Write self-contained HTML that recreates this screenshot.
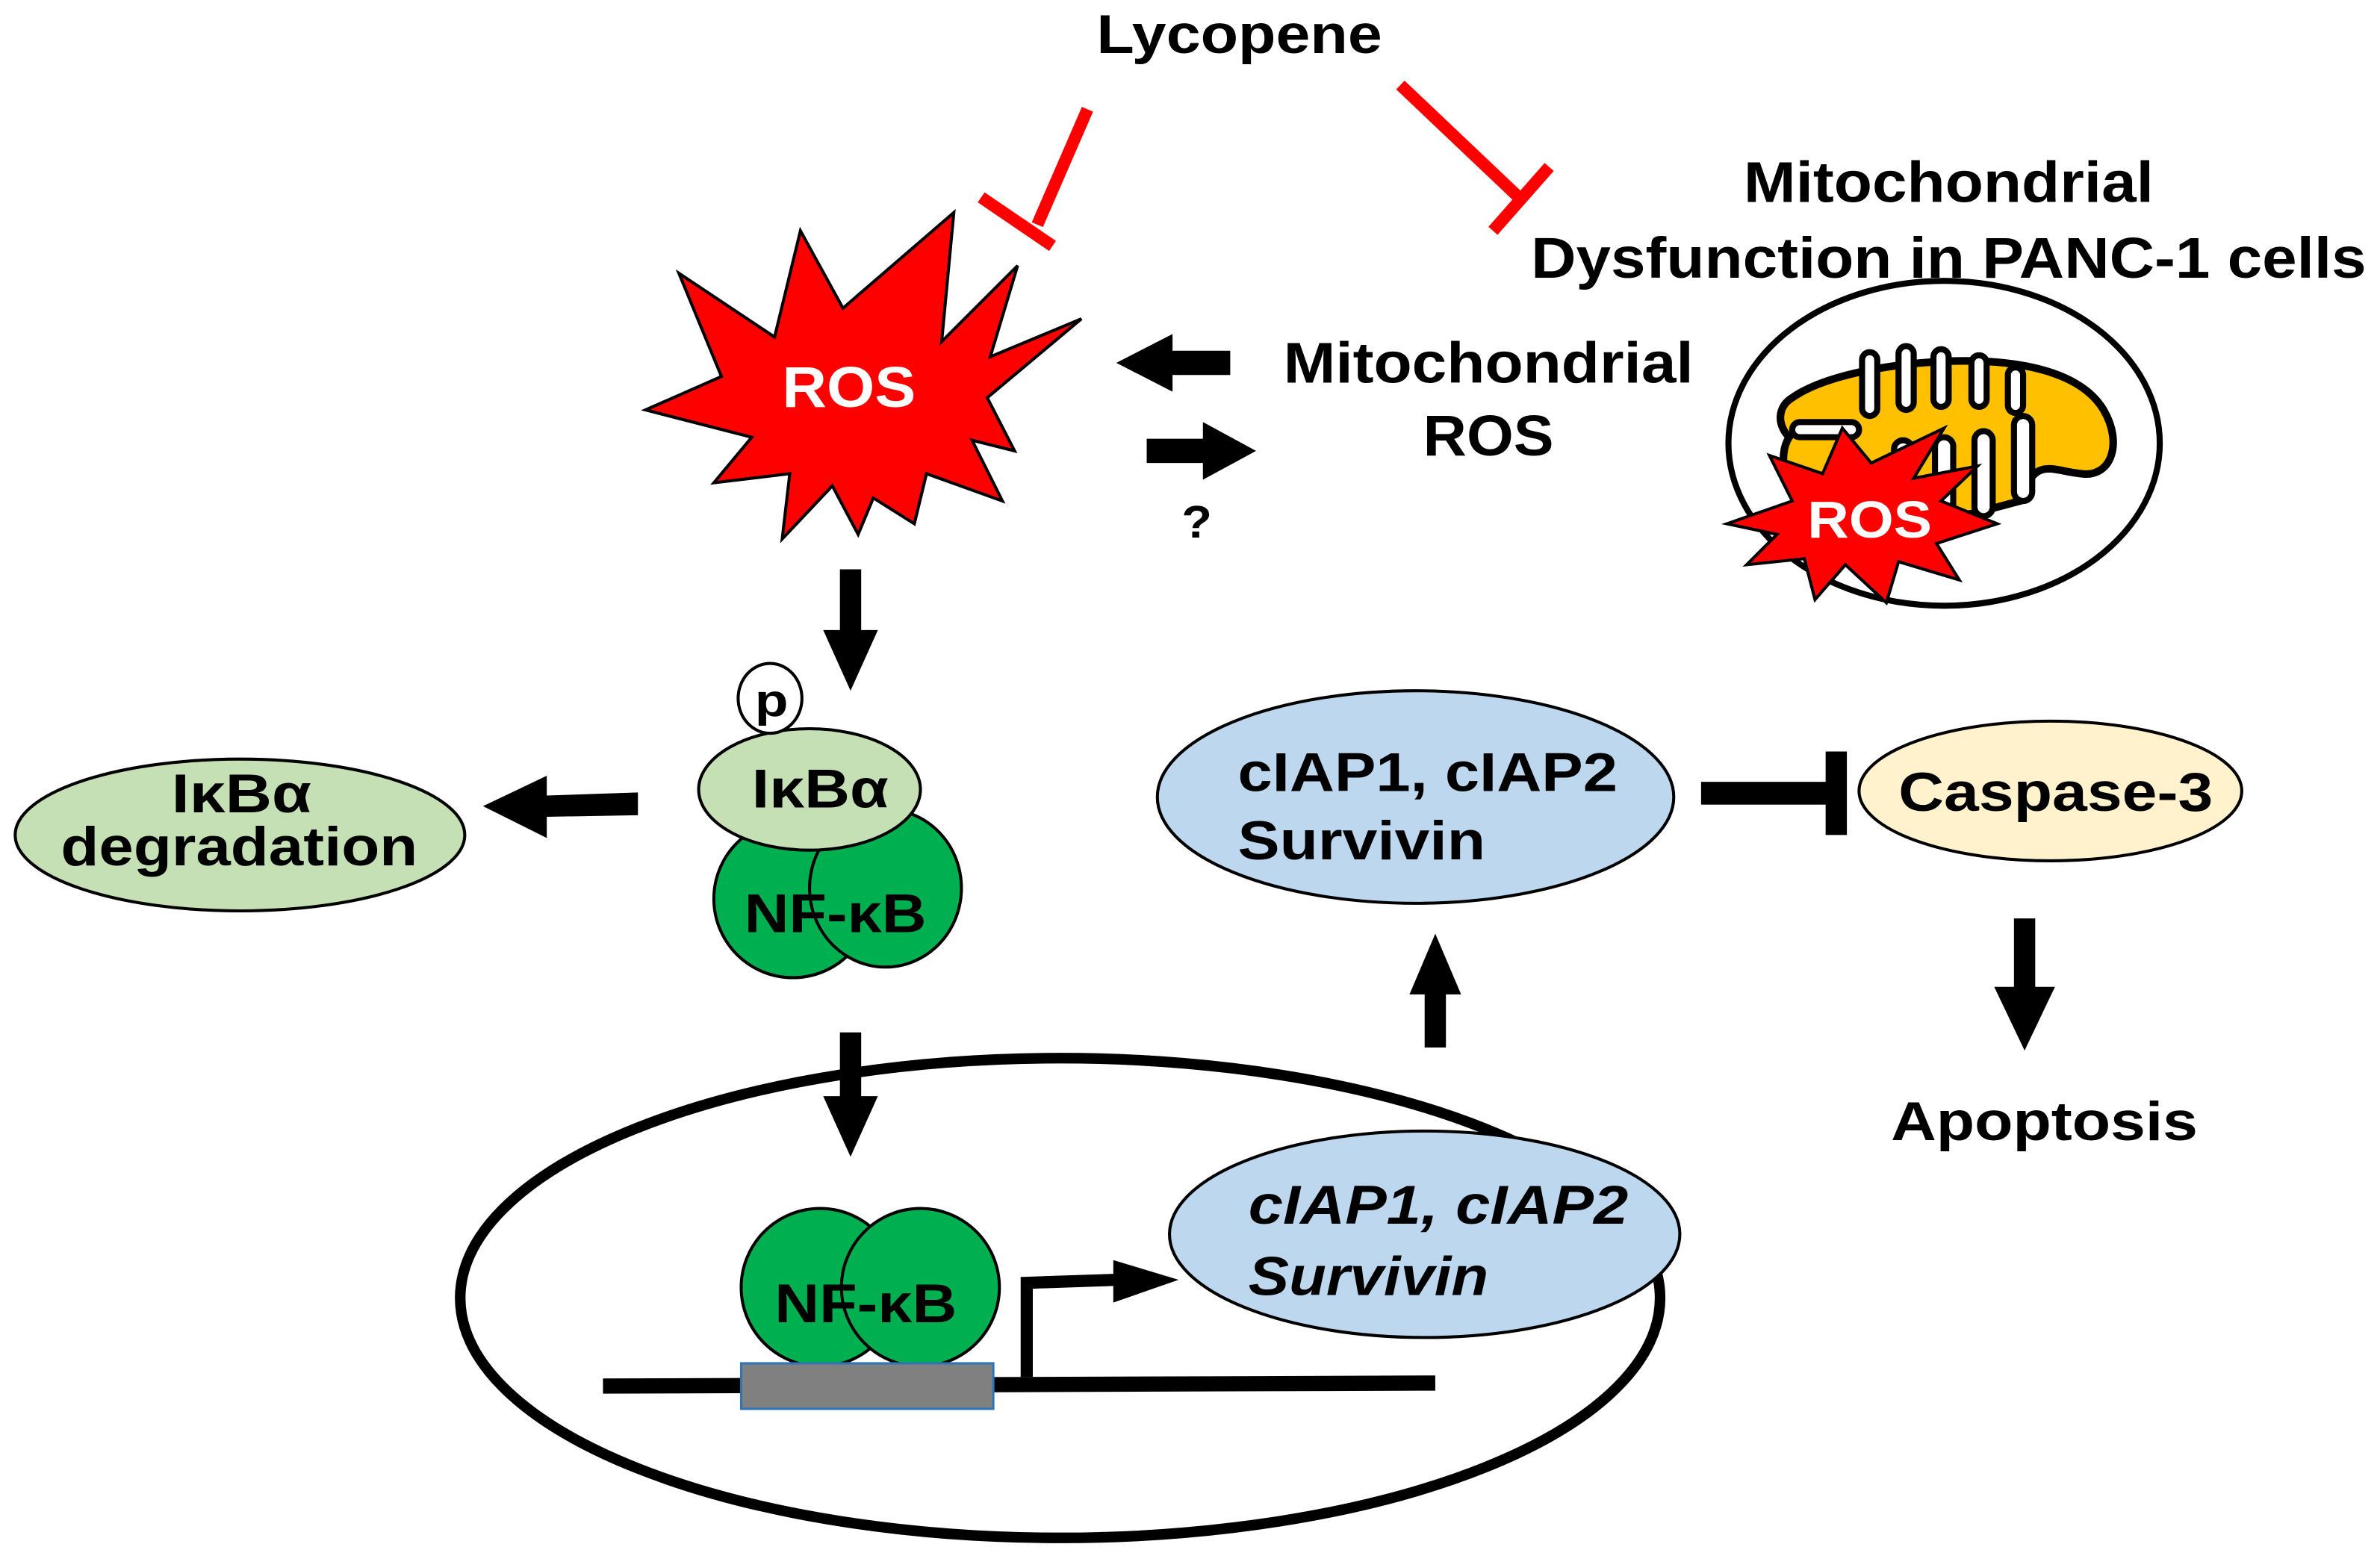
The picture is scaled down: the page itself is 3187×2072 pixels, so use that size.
<!DOCTYPE html>
<html><head><meta charset="utf-8"><style>
html,body{margin:0;padding:0;background:#fff;}
svg{display:block;}
text{font-family:"Liberation Sans",Arial,sans-serif;font-weight:bold;}
</style></head><body>
<svg width="3187" height="2072" viewBox="0 0 1567 1019" preserveAspectRatio="none" xmlns="http://www.w3.org/2000/svg">
<text x="722" y="35" font-size="36" textLength="188" lengthAdjust="spacingAndGlyphs">Lycopene</text>
<g stroke="#f00" stroke-width="8" fill="none">
<line x1="716" y1="72" x2="683" y2="148"/>
<line x1="646" y1="130" x2="693" y2="162"/>
<line x1="922" y1="56" x2="1000" y2="130"/>
<line x1="983" y1="152" x2="1020" y2="110"/>
</g>
<polygon points="425,270 475,248 447,180 510,222 527,152 555,203 628,140 620,225 670,175 652,235 712,210 650,262 668,297 640,290 660,330 610,312 602,345 575,328 565,352 548,320 515,355 520,312 470,318 495,288" fill="#f00" stroke="#000" stroke-width="2"/>
<text x="515" y="268" font-size="38" fill="#fff" textLength="88" lengthAdjust="spacingAndGlyphs">ROS</text>
<polygon points="810,231 772,231 772,220 735,239 772,258 772,247 810,247" fill="#000"/>
<polygon points="755,289 792,289 792,278 827,297 792,316 792,305 755,305" fill="#000"/>
<text x="778" y="354" font-size="30" textLength="20" lengthAdjust="spacingAndGlyphs">?</text>
<text x="845" y="252" font-size="38" textLength="270" lengthAdjust="spacingAndGlyphs">Mitochondrial</text>
<text x="937" y="300" font-size="38" textLength="86" lengthAdjust="spacingAndGlyphs">ROS</text>
<text x="1148" y="133" font-size="38" textLength="270" lengthAdjust="spacingAndGlyphs">Mitochondrial</text>
<text x="1008" y="183" font-size="38" textLength="550" lengthAdjust="spacingAndGlyphs">Dysfunction in PANC-1 cells</text>
<ellipse cx="1280" cy="292" rx="142" ry="107" fill="#fff" stroke="#000" stroke-width="4"/>
<path d="M1180,262 C1200,248 1240,240 1280,238 C1330,236 1370,245 1385,270 C1398,292 1390,315 1370,312 C1350,310 1340,300 1330,330 L1300,338 C1260,345 1220,342 1190,335 C1175,325 1170,300 1178,288 C1170,280 1170,268 1180,262 Z" fill="#FFC000" stroke="#000" stroke-width="5"/>
<g fill="#fff" stroke="#000" stroke-width="4">
<rect x="1226" y="232" width="10" height="42" rx="5"/>
<rect x="1250" y="228" width="10" height="42" rx="5"/>
<rect x="1273" y="230" width="10" height="38" rx="5"/>
<rect x="1298" y="234" width="10" height="34" rx="5"/>
<rect x="1322" y="242" width="10" height="30" rx="5"/>
<rect x="1180" y="278" width="44" height="10" rx="5"/>
<rect x="1247" y="290" width="12" height="56" rx="6"/>
<rect x="1274" y="288" width="12" height="58" rx="6"/>
<rect x="1300" y="284" width="12" height="56" rx="6"/>
<rect x="1326" y="274" width="12" height="56" rx="6"/>
</g>
<polygon points="1137,345 1180,330 1165,300 1200,312 1213,282 1232,305 1280,282 1260,315 1302,307 1278,330 1315,345 1275,358 1290,382 1250,370 1242,397 1215,372 1195,395 1188,368 1150,372 1170,352" fill="#f00" stroke="#000" stroke-width="2"/>
<text x="1190" y="354" font-size="34" fill="#fff" textLength="82" lengthAdjust="spacingAndGlyphs">ROS</text>
<polygon points="553,375 567,375 567,415 578,415 560,455 542,415 553,415" fill="#000"/>
<ellipse cx="158" cy="550" rx="148" ry="50" fill="#C5E0B4" stroke="#000" stroke-width="2"/>
<text x="113" y="535" font-size="36" textLength="92" lengthAdjust="spacingAndGlyphs">IκBα</text>
<text x="40" y="570" font-size="36" textLength="235" lengthAdjust="spacingAndGlyphs">degradation</text>
<polygon points="420,522 360,524 360,511 318,531 360,552 360,538 420,537" fill="#000"/>
<ellipse cx="522" cy="592" rx="52" ry="52" fill="#00B050" stroke="#000" stroke-width="2"/>
<ellipse cx="583" cy="585" rx="50" ry="52" fill="#00B050" stroke="#000" stroke-width="2"/>
<ellipse cx="533" cy="520" rx="73" ry="40" fill="#C5E0B4" stroke="#000" stroke-width="2"/>
<ellipse cx="507" cy="460" rx="21" ry="23" fill="#fff" stroke="#000" stroke-width="2"/>
<text x="497" y="472" font-size="30" textLength="22" lengthAdjust="spacingAndGlyphs">p</text>
<text x="495" y="532" font-size="36" textLength="90" lengthAdjust="spacingAndGlyphs">IκBα</text>
<text x="490" y="614" font-size="36" textLength="120" lengthAdjust="spacingAndGlyphs">NF-κB</text>
<!-- nucleus -->
<ellipse cx="698" cy="855" rx="395" ry="158" fill="none" stroke="#000" stroke-width="7"/>
<polygon points="553,680 567,680 567,722 578,722 560,762 542,722 553,722" fill="#000"/>
<ellipse cx="540" cy="848" rx="52" ry="52" fill="#00B050" stroke="#000" stroke-width="2"/>
<ellipse cx="606" cy="848" rx="52" ry="52" fill="#00B050" stroke="#000" stroke-width="2"/>
<text x="510" y="871" font-size="36" textLength="120" lengthAdjust="spacingAndGlyphs">NF-κB</text>
<line x1="397" y1="913" x2="945" y2="911" stroke="#000" stroke-width="10"/>
<rect x="488" y="898" width="166" height="30" fill="#808080" stroke="#2E75B6" stroke-width="1.5"/>
<polyline points="676,907 676,845 735,843" fill="none" stroke="#000" stroke-width="8"/>
<polygon points="733,830 776,843 733,858" fill="#000"/>
<ellipse cx="938" cy="813" rx="168" ry="68" fill="#BDD7EE" stroke="#000" stroke-width="2"/>
<text x="822" y="806" font-size="36" font-style="italic" textLength="250" lengthAdjust="spacingAndGlyphs">cIAP1, cIAP2</text>
<text x="822" y="853" font-size="36" font-style="italic" textLength="158" lengthAdjust="spacingAndGlyphs">Survivin</text>
<polygon points="938,690 952,690 952,655 962,655 945,615 928,655 938,655" fill="#000"/>
<ellipse cx="932" cy="525" rx="170" ry="70" fill="#BDD7EE" stroke="#000" stroke-width="2"/>
<text x="815" y="521" font-size="36" textLength="250" lengthAdjust="spacingAndGlyphs">cIAP1, cIAP2</text>
<text x="815" y="566" font-size="36" textLength="163" lengthAdjust="spacingAndGlyphs">Survivin</text>
<rect x="1120" y="515" width="88" height="15" fill="#000"/>
<rect x="1202" y="495" width="14" height="55" fill="#000"/>
<ellipse cx="1350" cy="521" rx="126" ry="46" fill="#FFF2CC" stroke="#000" stroke-width="2"/>
<text x="1250" y="534" font-size="36" textLength="207" lengthAdjust="spacingAndGlyphs">Caspase-3</text>
<polygon points="1326,605 1340,605 1340,650 1353,650 1333,692 1313,650 1326,650" fill="#000"/>
<text x="1245" y="751" font-size="36" textLength="202" lengthAdjust="spacingAndGlyphs">Apoptosis</text>
</svg>
</body></html>
